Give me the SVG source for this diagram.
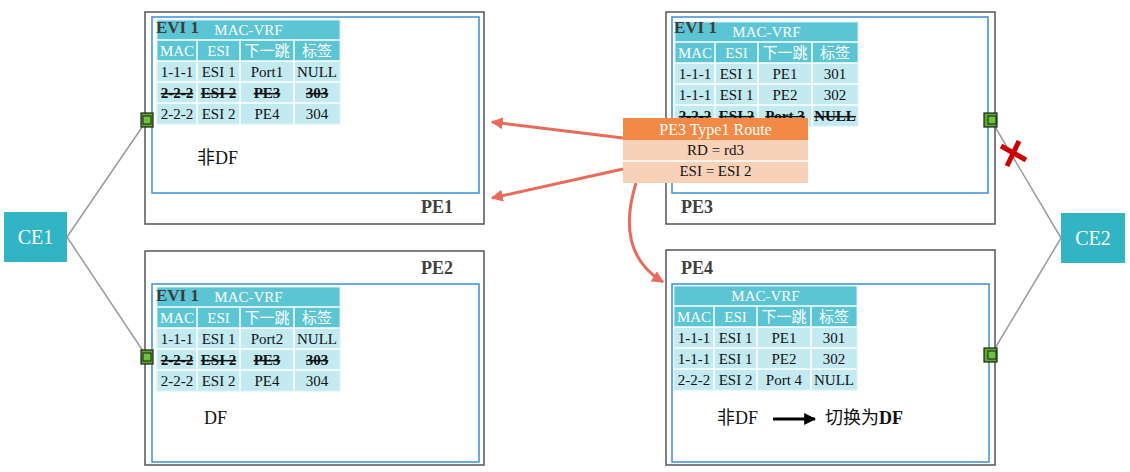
<svg xmlns="http://www.w3.org/2000/svg" width="1130" height="472" viewBox="0 0 1130 472">
<style>
text{font-family:"Liberation Serif","Noto Sans CJK SC",serif}
.outer{fill:#fff;stroke:#555;stroke-width:1.5}
.inner{fill:#fff;stroke:#3a8fd6;stroke-width:1.5}
.hdr{fill:#5bc5d4}
.body{fill:#c2eaf0}
.sep{stroke:#fff;stroke-width:1.5}
.th{fill:#fff;font-size:15px;text-anchor:middle}
.td{fill:#111;font-size:15px;text-anchor:middle}
.del{font-weight:bold;text-decoration:line-through}
.evi{fill:#3d3d3d;font-size:17px;font-weight:bold}
.pe{fill:#404040;font-size:18px;font-weight:bold}
.lbl{fill:#111;font-size:18px}
.link{stroke:#9a9a9a;stroke-width:1.5;fill:none}
.port{fill:#5aab2a;stroke:#1e1e1e;stroke-width:1.2}
.portin{fill:#6cc23a;stroke:#1e1e1e;stroke-width:1}
.ce{fill:#31b5c4}
.cet{fill:#fff;font-size:20px;text-anchor:middle}
.adv{stroke:#e96b5b;stroke-width:3;fill:none}
</style>
<defs>
<marker id="ah" viewBox="0 0 10 10" refX="9" refY="5" markerWidth="4" markerHeight="4" orient="auto" markerUnits="strokeWidth"><path d="M0,0 L10,5 L0,10 z" fill="#e96b5b"/></marker>
<marker id="bh" viewBox="0 0 10 10" refX="9" refY="5" markerWidth="4" markerHeight="4" orient="auto" markerUnits="strokeWidth"><path d="M0,0 L10,5 L0,10 z" fill="#000"/></marker>
<g id="tbl">
<rect class="hdr" x="0" y="0" width="183" height="41"/>
<rect class="body" x="0" y="41" width="183" height="63"/>
<line class="sep" x1="0" y1="20" x2="183" y2="20"/>
<line class="sep" x1="0" y1="41" x2="183" y2="41"/>
<line class="sep" x1="0" y1="62" x2="183" y2="62"/>
<line class="sep" x1="0" y1="83" x2="183" y2="83"/>
<line class="sep" x1="40" y1="20" x2="40" y2="104"/>
<line class="sep" x1="83" y1="20" x2="83" y2="104"/>
<line class="sep" x1="137" y1="20" x2="137" y2="104"/>
<rect x="0" y="0" width="183" height="104" fill="none" stroke="#d8f2f6" stroke-width="1"/>
<text class="th" x="91.5" y="15">MAC-VRF</text>
<text class="th" x="20" y="36">MAC</text>
<text class="th" x="61.5" y="36">ESI</text>
<text class="th" x="110" y="36">下一跳</text>
<text class="th" x="160" y="36">标签</text>
</g>
</defs>
<g id="connectors">
<line class="link" x1="67" y1="237" x2="147" y2="120"/>
<line class="link" x1="67" y1="237" x2="147" y2="357"/>
<line class="link" x1="1061" y1="238" x2="991" y2="120"/>
<line class="link" x1="1061" y1="238" x2="991" y2="355"/>
</g>
<g id="PE1">
<rect class="outer" x="145" y="12" width="339" height="212"/>
<rect class="inner" x="152" y="17" width="327" height="176"/>
<g transform="translate(157,20)">
<use href="#tbl"/>
<text class="td" x="20" y="57">1-1-1</text><text class="td" x="61.5" y="57">ESI 1</text><text class="td" x="110" y="57">Port1</text><text class="td" x="160" y="57">NULL</text>
<text class="td del" x="20" y="78">2-2-2</text><text class="td del" x="61.5" y="78">ESI 2</text><text class="td del" x="110" y="78">PE3</text><text class="td del" x="160" y="78">303</text>
<text class="td" x="20" y="99">2-2-2</text><text class="td" x="61.5" y="99">ESI 2</text><text class="td" x="110" y="99">PE4</text><text class="td" x="160" y="99">304</text>
</g>
<text class="evi" x="156" y="33">EVI 1</text>
<text class="lbl" x="197" y="164">非DF</text>
<text class="pe" x="421" y="213">PE1</text>
<rect class="port" x="141" y="113" width="12" height="14"/>
<rect class="portin" x="143" y="116" width="8" height="8"/>
</g>
<g id="PE2">
<rect class="outer" x="145" y="251" width="339" height="214"/>
<rect class="inner" x="152" y="284" width="327" height="178"/>
<g transform="translate(157,287)">
<use href="#tbl"/>
<text class="td" x="20" y="57">1-1-1</text><text class="td" x="61.5" y="57">ESI 1</text><text class="td" x="110" y="57">Port2</text><text class="td" x="160" y="57">NULL</text>
<text class="td del" x="20" y="78">2-2-2</text><text class="td del" x="61.5" y="78">ESI 2</text><text class="td del" x="110" y="78">PE3</text><text class="td del" x="160" y="78">303</text>
<text class="td" x="20" y="99">2-2-2</text><text class="td" x="61.5" y="99">ESI 2</text><text class="td" x="110" y="99">PE4</text><text class="td" x="160" y="99">304</text>
</g>
<text class="evi" x="156" y="301">EVI 1</text>
<text class="lbl" x="204" y="424">DF</text>
<text class="pe" x="421" y="274">PE2</text>
<rect class="port" x="141" y="350" width="12" height="14"/>
<rect class="portin" x="143" y="353" width="8" height="8"/>
</g>
<g id="PE3">
<rect class="outer" x="666" y="12" width="329" height="212"/>
<rect class="inner" x="672" y="17" width="316" height="176"/>
<g transform="translate(675,22)">
<use href="#tbl"/>
<text class="td" x="20" y="57">1-1-1</text><text class="td" x="61.5" y="57">ESI 1</text><text class="td" x="110" y="57">PE1</text><text class="td" x="160" y="57">301</text>
<text class="td" x="20" y="78">1-1-1</text><text class="td" x="61.5" y="78">ESI 1</text><text class="td" x="110" y="78">PE2</text><text class="td" x="160" y="78">302</text>
<text class="td del" x="20" y="99">2-2-2</text><text class="td del" x="61.5" y="99">ESI 2</text><text class="td del" x="110" y="99">Port 3</text><text class="td del" x="160" y="99">NULL</text>
</g>
<text class="evi" x="674" y="33">EVI 1</text>
<text class="pe" x="681" y="213">PE3</text>
<rect class="port" x="984" y="113" width="13" height="14"/>
<rect class="portin" x="988" y="116" width="8" height="8"/>
</g>
<g id="PE4">
<rect class="outer" x="666" y="250" width="329" height="215"/>
<rect class="inner" x="672" y="284" width="317" height="178"/>
<g transform="translate(674,286)">
<use href="#tbl"/>
<text class="td" x="20" y="57">1-1-1</text><text class="td" x="61.5" y="57">ESI 1</text><text class="td" x="110" y="57">PE1</text><text class="td" x="160" y="57">301</text>
<text class="td" x="20" y="78">1-1-1</text><text class="td" x="61.5" y="78">ESI 1</text><text class="td" x="110" y="78">PE2</text><text class="td" x="160" y="78">302</text>
<text class="td" x="20" y="99">2-2-2</text><text class="td" x="61.5" y="99">ESI 2</text><text class="td" x="110" y="99">Port 4</text><text class="td" x="160" y="99">NULL</text>
</g>
<text class="pe" x="681" y="274">PE4</text>
<text class="lbl" x="717" y="424">非DF</text>
<line x1="773" y1="419" x2="815" y2="419" stroke="#000" stroke-width="3" marker-end="url(#bh)"/>
<text class="lbl" x="825" y="424">切换为<tspan font-weight="bold">DF</tspan></text>
<rect class="port" x="984" y="348" width="13" height="14"/>
<rect class="portin" x="988" y="351" width="8" height="8"/>
</g>
<g id="CE1">
<rect class="ce" x="4" y="212" width="63" height="50"/>
<text class="cet" x="35.5" y="244">CE1</text>
</g>
<g id="CE2">
<rect class="ce" x="1061" y="213" width="64" height="50"/>
<text class="cet" x="1093" y="245">CE2</text>
</g>
<g id="adverts">
<line class="adv" x1="623" y1="138" x2="492" y2="122" marker-end="url(#ah)"/>
<line class="adv" x1="623" y1="169" x2="492" y2="198" marker-end="url(#ah)"/>
<path class="adv" d="M636,183 C622,228 630,262 663,282" marker-end="url(#ah)"/>
</g>
<g id="route">
<rect x="623" y="118" width="185" height="22" fill="#f28a45"/>
<rect x="623" y="140" width="185" height="43" fill="#f8d2b8"/>
<line x1="623" y1="161" x2="808" y2="161" stroke="#fff" stroke-width="1.5"/>
<text x="715.5" y="135" fill="#fff" font-size="16" text-anchor="middle">PE3 Type1 Route</text>
<text x="715.5" y="155" fill="#111" font-size="15" text-anchor="middle">RD = rd3</text>
<text x="715.5" y="176" fill="#111" font-size="15" text-anchor="middle">ESI = ESI 2</text>
</g>
<g id="fault">
<line x1="1001" y1="146" x2="1026" y2="160" stroke="#cc0000" stroke-width="5"/>
<line x1="1019" y1="141" x2="1007" y2="166" stroke="#cc0000" stroke-width="5"/>
</g>
</svg>
